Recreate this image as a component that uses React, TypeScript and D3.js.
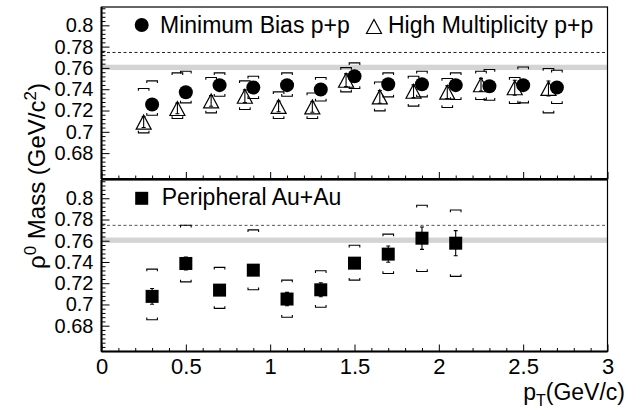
import { useEffect, useRef } from 'react';
import * as d3 from 'd3';

// p+p minimum bias (filled circles)
const ptMinBias = [0.3, 0.5, 0.7, 0.9, 1.1, 1.3, 1.5, 1.7, 1.9, 2.1, 2.3, 2.5, 2.7];
const massMinBias = [0.7257, 0.7372, 0.7438, 0.7416, 0.7438, 0.7397, 0.7522, 0.7447, 0.7447, 0.7438, 0.7428, 0.7438, 0.7416];
const statMinBias = [0.004, 0.003, 0.003, 0.003, 0.003, 0.003, 0.004, 0.003, 0.003, 0.003, 0.003, 0.004, 0.004];
const sysHiMinBias = [0.7478, 0.7569, 0.7553, 0.7522, 0.7553, 0.751, 0.7647, 0.7553, 0.7569, 0.7553, 0.7585, 0.7609, 0.7578];
const sysLoMinBias = [0.7156, 0.7272, 0.7334, 0.7313, 0.7334, 0.729, 0.7407, 0.7328, 0.7328, 0.7303, 0.7297, 0.7272, 0.7266];

// p+p high multiplicity (open triangles)
const ptHighMult = [0.25, 0.45, 0.65, 0.85, 1.05, 1.25, 1.45, 1.65, 1.85, 2.05, 2.25, 2.45, 2.65];
const massHighMult = [0.7091, 0.7219, 0.729, 0.7334, 0.7238, 0.7234, 0.7484, 0.7328, 0.7381, 0.7372, 0.7442, 0.7414, 0.7407];
const statHighMult = [0.005, 0.005, 0.005, 0.006, 0.005, 0.005, 0.006, 0.006, 0.006, 0.006, 0.006, 0.007, 0.007];
const sysHiHighMult = [0.7407, 0.7553, 0.751, 0.7478, 0.7375, 0.7365, 0.7603, 0.7468, 0.7522, 0.75, 0.7569, 0.751, 0.7594];
const sysLoHighMult = [0.699, 0.7125, 0.7178, 0.721, 0.7125, 0.7125, 0.7375, 0.7197, 0.7241, 0.7228, 0.7303, 0.7266, 0.7178];

// peripheral Au+Au (filled squares)
const ptAuAu = [0.3, 0.5, 0.7, 0.9, 1.1, 1.3, 1.5, 1.7, 1.9, 2.1];
const massAuAu = [0.7076, 0.7386, 0.7135, 0.7323, 0.7051, 0.7138, 0.7389, 0.7474, 0.7624, 0.7577];
const statAuAu = [0.0074, 0.006, 0.004, 0.004, 0.0063, 0.0066, 0.004, 0.0076, 0.0105, 0.0118];
const sysHiAuAu = [0.7333, 0.7746, 0.7349, 0.7702, 0.7229, 0.7317, 0.7558, 0.7662, 0.7934, 0.789];
const sysLoAuAu = [0.6856, 0.7213, 0.6963, 0.7138, 0.6879, 0.6973, 0.7229, 0.7292, 0.7311, 0.7264];

const xTicks = [0, 0.5, 1, 1.5, 2, 2.5, 3];
const yTicks = [0.68, 0.7, 0.72, 0.74, 0.76, 0.78, 0.8];
const pdgMass = 0.7745;
const bandLo = 0.758;
const bandHi = 0.763;

const W = 639;
const H = 414;
const FONT = '"Liberation Sans", Arial, Helvetica, sans-serif';

export default function App() {
  const svgRef = useRef<SVGSVGElement>(null);

  useEffect(() => {
    if (!svgRef.current) return;
    const svg = d3.select(svgRef.current);
    svg.selectAll('*').remove();

    const left = 101.5;
    const right = 607.5;
    const x = d3.scaleLinear().domain([0, 3]).range([left, right]);
    const yDomain: [number, number] = [0.6557, 0.8172];
    const panels = [
      { y: d3.scaleLinear().domain(yDomain).range([179, 7]), top: 7, bottom: 179 },
      { y: d3.scaleLinear().domain(yDomain).range([351.5, 180]), top: 180, bottom: 351.5 },
    ];

    const yMinor = d3.range(0.66, 0.817, 0.004).filter(v => !yTicks.some(t => Math.abs(t - v) < 1e-6));
    const xMinor = d3.range(0, 3.01, 0.1).filter(v => !xTicks.some(t => Math.abs(t - v) < 1e-6));

    panels.forEach((p, idx) => {
      const g = svg.append('g');

      // reference band and PDG mass line
      g.append('rect')
        .attr('x', left)
        .attr('width', right - left)
        .attr('y', p.y(bandHi))
        .attr('height', p.y(bandLo) - p.y(bandHi))
        .attr('fill', '#d4d4d4');
      g.append('line')
        .attr('x1', left).attr('x2', right)
        .attr('y1', p.y(pdgMass)).attr('y2', p.y(pdgMass))
        .attr('stroke', idx === 0 ? '#222' : '#555')
        .attr('stroke-width', 1)
        .attr('stroke-dasharray', '3,2.5');

      // y axis, major and minor ticks pointing inward
      const yMajor = g.append('g')
        .attr('transform', `translate(${left},0)`)
        .call(d3.axisLeft(p.y).tickValues(yTicks).tickSizeInner(-8).tickSizeOuter(0).tickPadding(8).tickFormat(d3.format('~g')));
      yMajor.selectAll('text')
        .attr('font-size', '20px')
        .attr('font-family', FONT)
        .attr('fill', '#000');
      g.append('g')
        .attr('transform', `translate(${left},0)`)
        .call(d3.axisLeft(p.y).tickValues(yMinor).tickSizeInner(-4).tickSizeOuter(0).tickFormat(() => ''));

      // x axis ticks at panel bottom
      const xMajor = g.append('g')
        .attr('transform', `translate(0,${p.bottom})`)
        .call(d3.axisBottom(x).tickValues(xTicks).tickSizeInner(-7).tickSizeOuter(0).tickPadding(7).tickFormat(d3.format('~g')));
      xMajor.selectAll('text')
        .attr('font-size', '22px')
        .attr('font-family', FONT)
        .attr('fill', '#000');
      if (idx === 0) xMajor.selectAll('text').remove();
      g.append('g')
        .attr('transform', `translate(0,${p.bottom})`)
        .call(d3.axisBottom(x).tickValues(xMinor).tickSizeInner(-3.5).tickSizeOuter(0).tickFormat(() => ''));

      g.selectAll('.domain').remove();
      g.selectAll('.tick line').attr('stroke', '#000').attr('stroke-width', 1);

      // frame
      g.append('rect')
        .attr('x', left).attr('y', p.top)
        .attr('width', right - left).attr('height', p.bottom - p.top)
        .attr('fill', 'none').attr('stroke', '#000').attr('stroke-width', 1.2);
      g.append('line')
        .attr('x1', left).attr('x2', left)
        .attr('y1', p.top).attr('y2', p.bottom)
        .attr('stroke', '#000').attr('stroke-width', 2);
      g.append('line')
        .attr('x1', left).attr('x2', right)
        .attr('y1', p.bottom).attr('y2', p.bottom)
        .attr('stroke', '#000').attr('stroke-width', 2);
    });

    // systematic brackets + stat bars
    const drawErrors = (
      y: d3.ScaleLinear<number, number>,
      pts: number[], vals: number[], stat: number[], hi: number[], lo: number[]
    ) => {
      const g = svg.append('g').attr('fill', 'none').attr('stroke', '#000').attr('stroke-width', 1.1);
      pts.forEach((pt, i) => {
        const cx = x(pt);
        const yh = y(hi[i]);
        const yl = y(lo[i]);
        g.append('path').attr('d', `M${cx - 5.3},${yh + 2.2}V${yh}H${cx + 5.3}V${yh + 2.2}`);
        g.append('path').attr('d', `M${cx - 5.3},${yl - 2.2}V${yl}H${cx + 5.3}V${yl - 2.2}`);
        const s1 = y(vals[i] + stat[i]);
        const s2 = y(vals[i] - stat[i]);
        g.append('path').attr('d', `M${cx},${s1}V${s2}M${cx - 2},${s1}H${cx + 2}M${cx - 2},${s2}H${cx + 2}`);
      });
    };

    const yT = panels[0].y;
    const yB = panels[1].y;
    drawErrors(yT, ptHighMult, massHighMult, statHighMult, sysHiHighMult, sysLoHighMult);
    drawErrors(yT, ptMinBias, massMinBias, statMinBias, sysHiMinBias, sysLoMinBias);
    drawErrors(yB, ptAuAu, massAuAu, statAuAu, sysHiAuAu, sysLoAuAu);

    const triPath = (cx: number, cy: number) =>
      `M${cx},${cy - 7}L${cx + 7.5},${cy + 7}L${cx - 7.5},${cy + 7}Z`;

    svg.append('g')
      .selectAll('path')
      .data(ptHighMult.map((pt, i) => ({ pt, m: massHighMult[i] })))
      .enter()
      .append('path')
      .attr('d', d => triPath(x(d.pt), yT(d.m)))
      .attr('fill', 'none')
      .attr('stroke', '#000')
      .attr('stroke-width', 1.2);

    svg.append('g')
      .selectAll('circle')
      .data(ptMinBias.map((pt, i) => ({ pt, m: massMinBias[i] })))
      .enter()
      .append('circle')
      .attr('cx', d => x(d.pt))
      .attr('cy', d => yT(d.m))
      .attr('r', 7)
      .attr('fill', '#000');

    svg.append('g')
      .selectAll('rect')
      .data(ptAuAu.map((pt, i) => ({ pt, m: massAuAu[i] })))
      .enter()
      .append('rect')
      .attr('x', d => x(d.pt) - 6.5)
      .attr('y', d => yB(d.m) - 6.5)
      .attr('width', 13)
      .attr('height', 13)
      .attr('fill', '#000');

    // legends
    const leg = svg.append('g').attr('font-family', FONT).attr('font-size', '23px').attr('fill', '#000');
    leg.append('circle').attr('cx', 141.7).attr('cy', 25).attr('r', 7).attr('fill', '#000');
    leg.append('text').attr('x', 160).attr('y', 33).text('Minimum Bias p+p');
    leg.append('path').attr('d', triPath(374, 26.5)).attr('fill', 'none').attr('stroke', '#000').attr('stroke-width', 1.2);
    leg.append('text').attr('x', 388).attr('y', 33).text('High Multiplicity p+p');
    leg.append('rect').attr('x', 135.2).attr('y', 191.8).attr('width', 13).attr('height', 13).attr('fill', '#000');
    leg.append('text').attr('x', 161.7).attr('y', 205).text('Peripheral Au+Au');

    // axis titles
    const xt = svg.append('text')
      .attr('x', 625).attr('y', 400)
      .attr('text-anchor', 'end')
      .attr('font-family', FONT).attr('font-size', '23px');
    xt.append('tspan').text('p');
    xt.append('tspan').attr('dy', 6).attr('font-size', '16px').text('T');
    xt.append('tspan').attr('dy', -6).text('(GeV/c)');

    const yt = svg.append('text')
      .attr('transform', 'translate(45,176) rotate(-90)')
      .attr('text-anchor', 'middle')
      .attr('font-family', FONT).attr('font-size', '24px');
    yt.append('tspan').text('ρ');
    yt.append('tspan').attr('dy', -9).attr('font-size', '17px').text('0');
    yt.append('tspan').attr('dy', 9).text(' Mass (GeV/c');
    yt.append('tspan').attr('dy', -9).attr('font-size', '17px').text('2');
    yt.append('tspan').attr('dy', 9).text(')');
  }, []);

  return (
    <svg
      ref={svgRef}
      width={W}
      height={H}
      style={{ position: 'absolute', left: 0, top: 0, background: '#fff' }}
    />
  );
}
